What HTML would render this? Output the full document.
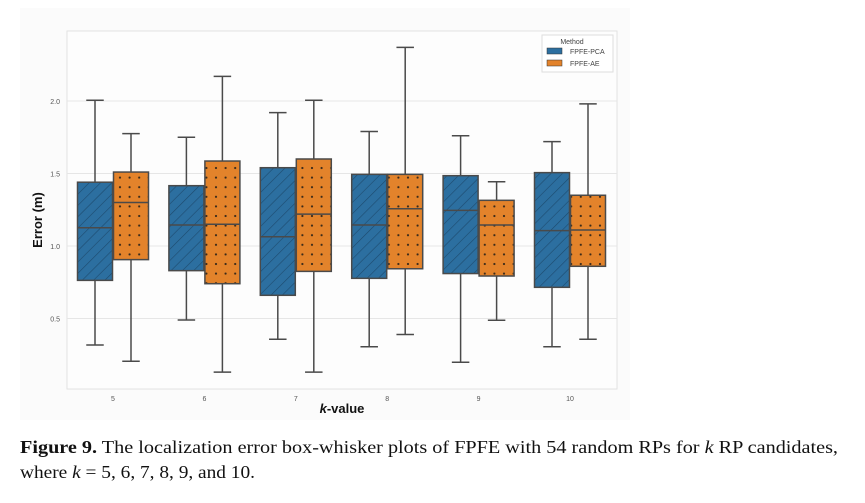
<!DOCTYPE html>
<html><head><meta charset="utf-8"><style>
html,body{margin:0;padding:0;background:#fff;width:865px;height:503px;overflow:hidden}
svg{display:block}
</style></head><body>
<svg id="chart" width="865" height="503" viewBox="0 0 865 503" xmlns="http://www.w3.org/2000/svg">
<defs>
<pattern id="hatch" width="8" height="8" patternUnits="userSpaceOnUse" patternTransform="rotate(45)">
<rect width="8" height="8" fill="#2c6fa0"/><line x1="0" y1="0" x2="0" y2="8" stroke="#1d4a6e" stroke-width="1.2"/>
</pattern>
<pattern id="dots" width="9.6" height="9.6" patternUnits="userSpaceOnUse">
<rect width="9.6" height="9.6" fill="#e3832b"/><circle cx="4.8" cy="4.8" r="1.1" fill="#3a2a1a"/>
</pattern>
</defs>
<rect x="20" y="8" width="610" height="412" fill="#fbfbfb"/>
<rect x="67" y="31" width="550" height="358" fill="#fdfdfd" stroke="#e2e2e2"/>
<g id="grid"></g>
<g id="boxes"></g>
<g id="axes"></g>
<text x="0" y="0" transform="translate(42,220) rotate(-90)" text-anchor="middle" font-family="Liberation Sans, sans-serif" font-weight="bold" font-size="13" fill="#111">Error (m)</text>
<text x="342" y="413" text-anchor="middle" font-family="Liberation Sans, sans-serif" font-weight="bold" font-size="13" fill="#111"><tspan font-style="italic">k</tspan>-value</text>
<g>
<rect x="542" y="35" width="71" height="37" fill="#fff" stroke="#ddd"/>
<text x="572" y="44" text-anchor="middle" font-family="Liberation Sans, sans-serif" font-size="7" fill="#444">Method</text>
<rect x="547" y="48" width="15" height="6" fill="#2c6fa0" stroke="#333" stroke-width="0.5"/>
<text x="570" y="54" font-family="Liberation Sans, sans-serif" font-size="7" fill="#444">FPFE-PCA</text>
<rect x="547" y="60" width="15" height="6" fill="#e3832b" stroke="#333" stroke-width="0.5"/>
<text x="570" y="66" font-family="Liberation Sans, sans-serif" font-size="7" fill="#444">FPFE-AE</text>
</g>
<text x="20" y="453" font-family="Liberation Serif, serif" font-size="17.5" fill="#111" textLength="818" lengthAdjust="spacingAndGlyphs"><tspan font-weight="bold">Figure 9.</tspan> The localization error box-whisker plots of FPFE with 54 random RPs for <tspan font-style="italic">k</tspan> RP candidates,</text>
<text x="20" y="478" font-family="Liberation Serif, serif" font-size="17.5" fill="#111" textLength="235" lengthAdjust="spacingAndGlyphs">where <tspan font-style="italic">k</tspan> = 5, 6, 7, 8, 9, and 10.</text>
</svg>
<script>
const categories = ["5","6","7","8","9","10"];
const yTicks = [0.5, 1.0, 1.5, 2.0];
const yTickLabels = ["0.5","1.0","1.5","2.0"];
// [low, q1, median, q3, high]
const pcaStats = [
 [0.317,0.763,1.126,1.44,2.005],
 [0.49,0.83,1.145,1.416,1.75],
 [0.357,0.66,1.064,1.54,1.92],
 [0.305,0.777,1.145,1.494,1.79],
 [0.198,0.81,1.246,1.485,1.76],
 [0.305,0.715,1.106,1.506,1.72]
];
const aeStats = [
 [0.205,0.906,1.30,1.51,1.775],
 [0.13,0.74,1.15,1.586,2.17],
 [0.13,0.825,1.22,1.60,2.005],
 [0.39,0.843,1.257,1.494,2.37],
 [0.488,0.793,1.145,1.315,1.443],
 [0.357,0.86,1.11,1.35,1.98]
];
const NS="http://www.w3.org/2000/svg";
const y = v => 246 - (v - 1) * 145;
const x = i => 113 + i * 91.4;
const boxW = 35;
function mk(tag, attrs, parent){const e=document.createElementNS(NS,tag);for(const k in attrs)e.setAttribute(k,attrs[k]);parent.appendChild(e);return e;}
const grid=document.getElementById('grid'), axes=document.getElementById('axes'), boxes=document.getElementById('boxes');
yTicks.forEach((t,i)=>{
  const l=mk('line',{x1:67,x2:617,y1:y(t),y2:y(t),stroke:'#e6e6e6','stroke-width':1},grid);
  
  
  const tx=mk('text',{x:60,y:y(t)+3,'text-anchor':'end','font-family':'Liberation Sans, sans-serif','font-size':7,fill:'#555'},axes);
  tx.textContent=yTickLabels[i];
  
  
});
categories.forEach((c,i)=>{
  const tx=mk('text',{x:x(i),y:401,'text-anchor':'middle','font-family':'Liberation Sans, sans-serif','font-size':7,fill:'#555'},axes);
  tx.textContent=c;
  
  
});
function drawBox(s, cx, fill, name){
  const g=mk('g',{},boxes);
  
  
  const st={stroke:'#4a4a4a','stroke-width':1.5};
  mk('line',Object.assign({x1:cx,x2:cx,y1:y(s[4]),y2:y(s[3])},st),g);
  mk('line',Object.assign({x1:cx,x2:cx,y1:y(s[1]),y2:y(s[0])},st),g);
  mk('line',Object.assign({x1:cx-boxW/4,x2:cx+boxW/4,y1:y(s[4]),y2:y(s[4])},st),g);
  mk('line',Object.assign({x1:cx-boxW/4,x2:cx+boxW/4,y1:y(s[0]),y2:y(s[0])},st),g);
  mk('rect',Object.assign({x:cx-boxW/2,y:y(s[3]),width:boxW,height:y(s[1])-y(s[3]),fill:fill}),g);
  mk('rect',Object.assign({x:cx-boxW/2,y:y(s[3]),width:boxW,height:y(s[1])-y(s[3]),fill:'none'},st),g);
  mk('line',Object.assign({x1:cx-boxW/2,x2:cx+boxW/2,y1:y(s[2]),y2:y(s[2])},st),g);
}
categories.forEach((c,i)=>{
  drawBox(pcaStats[i], x(i)-18, 'url(#hatch)', 'box-pca-k'+c);
  drawBox(aeStats[i], x(i)+18, 'url(#dots)', 'box-ae-k'+c);
});
</script>
</body></html>
